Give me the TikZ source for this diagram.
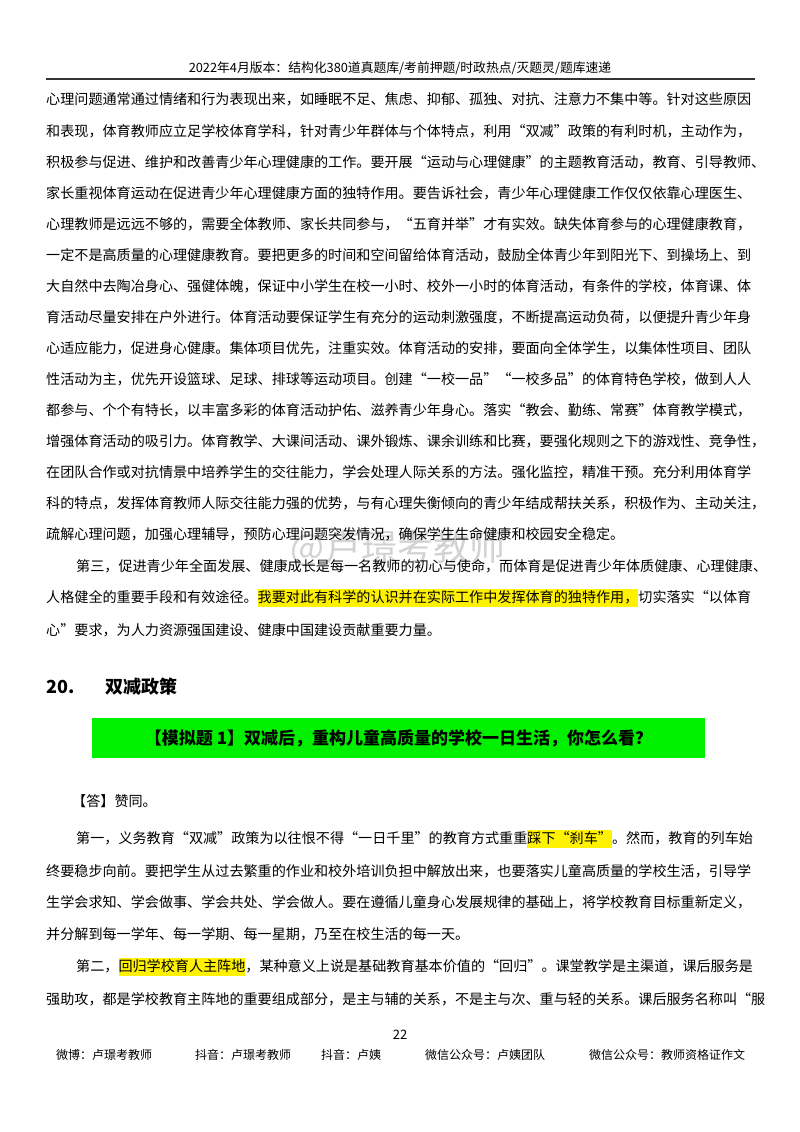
\documentclass[tikz,border=0pt]{standalone}
\usepackage{fontspec}
\setmainfont{Noto Sans CJK SC}
\usepackage{xcolor}
\definecolor{hlgreen}{HTML}{00F000}
\newcommand\hlt[1]{{\setlength\fboxsep{0pt}\colorbox{yellow}{\rule[-0.3em]{0pt}{1.25em}#1}}}
\begin{document}
\begin{tikzpicture}[x=1pt,y=-1pt,
  body/.style={anchor=west,inner sep=0pt,font=\fontsize{14.1}{14.1}\selectfont},
  foot/.style={anchor=west,inner sep=0pt,font=\fontsize{12}{12}\selectfont}]
\useasboundingbox (0,0) rectangle (800,1132);
\fill[white] (0,0) rectangle (800,1132);
\node[font=\fontsize{12.8}{12.8}\selectfont,inner sep=0pt] (hdr) at (400,68) {2022年4月版本：结构化380道真题库/考前押题/时政热点/灭题灵/题库速递};
\draw[line width=1.3pt,black!80] (46,79) coordinate (hl1) -- (755,79) coordinate (hl2);
\node[text=gray!35,font=\fontsize{36}{36}\selectfont,inner sep=0pt] (wm) at (398,548) {@卢璟考教师};
\node[body] (l1) at (46,99) {心理问题通常通过情绪和行为表现出来，如睡眠不足、焦虑、抑郁、孤独、对抗、注意力不集中等。针对这些原因};
\node[body] (l2) at (46,131) {和表现，体育教师应立足学校体育学科，针对青少年群体与个体特点，利用“双减”政策的有利时机，主动作为，};
\node[body] (l3) at (46,162) {积极参与促进、维护和改善青少年心理健康的工作。要开展“运动与心理健康”的主题教育活动，教育、引导教师、};
\node[body] (l4) at (46,193) {家长重视体育运动在促进青少年心理健康方面的独特作用。要告诉社会，青少年心理健康工作仅仅依靠心理医生、};
\node[body] (l5) at (46,224) {心理教师是远远不够的，需要全体教师、家长共同参与，“五育并举”才有实效。缺失体育参与的心理健康教育，};
\node[body] (l6) at (46,255) {一定不是高质量的心理健康教育。要把更多的时间和空间留给体育活动，鼓励全体青少年到阳光下、到操场上、到};
\node[body] (l7) at (46,286) {大自然中去陶冶身心、强健体魄，保证中小学生在校一小时、校外一小时的体育活动，有条件的学校，体育课、体};
\node[body] (l8) at (46,317) {育活动尽量安排在户外进行。体育活动要保证学生有充分的运动刺激强度，不断提高运动负荷，以便提升青少年身};
\node[body] (l9) at (46,348) {心适应能力，促进身心健康。集体项目优先，注重实效。体育活动的安排，要面向全体学生，以集体性项目、团队};
\node[body] (l10) at (46,379) {性活动为主，优先开设篮球、足球、排球等运动项目。创建“一校一品”“一校多品”的体育特色学校，做到人人};
\node[body] (l11) at (46,410) {都参与、个个有特长，以丰富多彩的体育活动护佑、滋养青少年身心。落实“教会、勤练、常赛”体育教学模式，};
\node[body] (l12) at (46,441) {增强体育活动的吸引力。体育教学、大课间活动、课外锻炼、课余训练和比赛，要强化规则之下的游戏性、竞争性，};
\node[body] (l13) at (46,472) {在团队合作或对抗情景中培养学生的交往能力，学会处理人际关系的方法。强化监控，精准干预。充分利用体育学};
\node[body] (l14) at (46,503) {科的特点，发挥体育教师人际交往能力强的优势，与有心理失衡倾向的青少年结成帮扶关系，积极作为、主动关注，};
\node[body] (l15) at (46,534) {疏解心理问题，加强心理辅导，预防心理问题突发情况，确保学生生命健康和校园安全稳定。};
\node[body] (l16) at (76,566) {第三，促进青少年全面发展、健康成长是每一名教师的初心与使命，而体育是促进青少年体质健康、心理健康、};
\node[body] (l17) at (46,598) {人格健全的重要手段和有效途径。\hlt{我要对此有科学的认识并在实际工作中发挥体育的独特作用，}切实落实“以体育};
\node[body] (l18) at (46,630) {心”要求，为人力资源强国建设、健康中国建设贡献重要力量。};
\node[anchor=west,inner sep=0pt,font=\fontsize{18}{18}\selectfont\bfseries] (h1) at (46,687) {20.};
\node[anchor=west,inner sep=0pt,font=\fontsize{18}{18}\selectfont\bfseries] (h2) at (105,687) {双减政策};
\fill[hlgreen] (92,718) rectangle (705,758);
\node[inner sep=0pt,font=\fontsize{17}{17}\selectfont\bfseries] (q) at (398.5,738) {【模拟题 1】双减后，重构儿童高质量的学校一日生活，你怎么看？};
\node[body] (a0) at (72,801) {【答】赞同。};
\node[body] (a1) at (76,839) {第一，义务教育“双减”政策为以往恨不得“一日千里”的教育方式重重\hlt{踩下“刹车”}。然而，教育的列车始};
\node[body] (a2) at (46,871) {终要稳步向前。要把学生从过去繁重的作业和校外培训负担中解放出来，也要落实儿童高质量的学校生活，引导学};
\node[body] (a3) at (46,902) {生学会求知、学会做事、学会共处、学会做人。要在遵循儿童身心发展规律的基础上，将学校教育目标重新定义，};
\node[body] (a4) at (46,934) {并分解到每一学年、每一学期、每一星期，乃至在校生活的每一天。};
\node[body] (a5) at (76,967) {第二，\hlt{回归学校育人主阵地}，某种意义上说是基础教育基本价值的“回归”。课堂教学是主渠道，课后服务是};
\node[body] (a6) at (46,999) {强助攻，都是学校教育主阵地的重要组成部分，是主与辅的关系，不是主与次、重与轻的关系。课后服务名称叫“服};
\node[inner sep=0pt,font=\fontsize{13}{13}\selectfont] (pg) at (400,1035) {22};
\node[foot] (f1) at (56,1055) {微博：卢璟考教师};
\node[foot] (f2) at (195,1055) {抖音：卢璟考教师};
\node[foot] (f3) at (321,1055) {抖音：卢姨};
\node[foot] (f4) at (425,1055) {微信公众号：卢姨团队};
\node[foot] (f5) at (589,1055) {微信公众号：教师资格证作文};
\end{tikzpicture}
\end{document}
